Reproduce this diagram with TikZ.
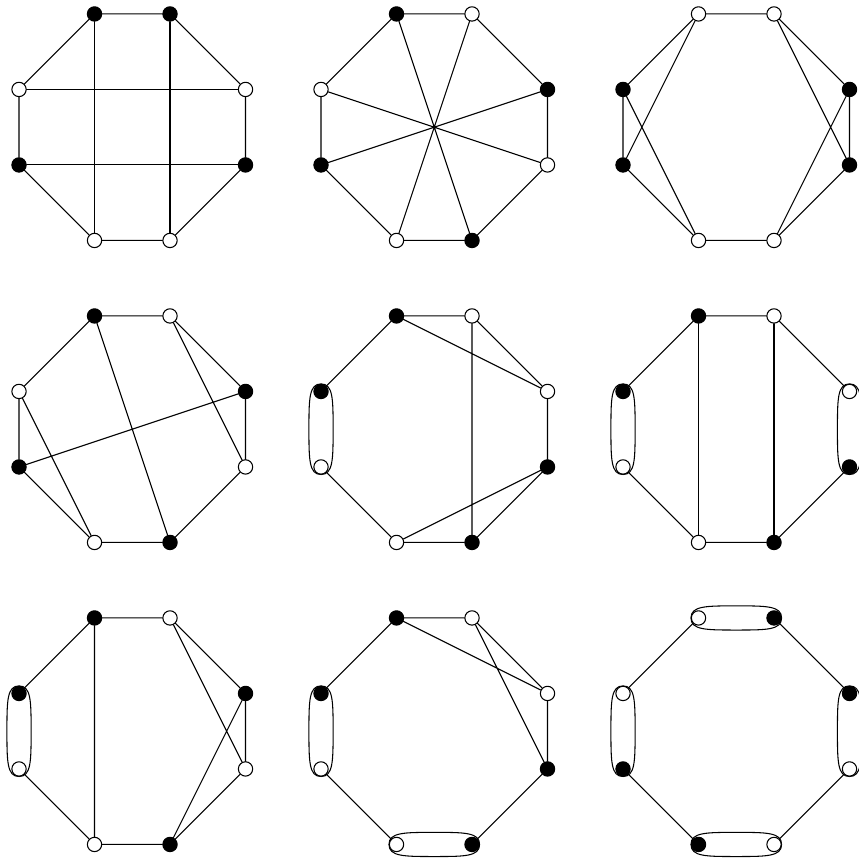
\documentclass[tikz,border=0pt]{standalone}
\tikzset{
	vloop/.pic={
		\draw (0,0.6) .. controls (0.16,0.6) and (0.16,0.4) .. (0.16,0)
			.. controls (0.16,-0.4) and (0.16,-0.6) .. (0,-0.6)
			.. controls (-0.16,-0.6) and (-0.16,-0.4) .. (-0.16,0)
			.. controls (-0.16,0.4) and (-0.16,0.6) .. (0,0.6) -- cycle;
	}
}
\begin{document}
\begin{tikzpicture}[line join=round, line cap=round,
	bv/.style={circle, draw, fill=black, inner sep=0pt, minimum size=0.19cm},
	wv/.style={circle, draw, fill=white, inner sep=0pt, minimum size=0.19cm}]
	\useasboundingbox (-0.252,-8.206) rectangle (11.113,3.185);
	\begin{scope}[shift={(0,0)}]
		\foreach \n/\x/\y/\s in {a/1/3/bv,b/2/3/bv,c/3/2/wv,d/3/1/bv,e/2/0/wv,f/1/0/wv,g/0/1/bv,h/0/2/wv}
			\node[\s] (\n1) at (\x,\y) {};
		\draw (a1)--(b1)--(c1)--(d1)--(e1)--(f1)--(g1)--(h1)--(a1);
		\draw (h1)--(c1) (g1)--(d1) (a1)--(f1) (b1)--(e1);
	\end{scope}
	\begin{scope}[shift={(4,0)}]
		\foreach \n/\x/\y/\s in {a/1/3/bv,b/2/3/wv,c/3/2/bv,d/3/1/wv,e/2/0/bv,f/1/0/wv,g/0/1/bv,h/0/2/wv}
			\node[\s] (\n2) at (\x,\y) {};
		\draw (a2)--(b2)--(c2)--(d2)--(e2)--(f2)--(g2)--(h2)--(a2);
		\draw (a2)--(e2) (b2)--(f2) (c2)--(g2) (d2)--(h2);
	\end{scope}
	\begin{scope}[shift={(8,0)}]
		\foreach \n/\x/\y/\s in {a/1/3/wv,b/2/3/wv,c/3/2/bv,d/3/1/bv,e/2/0/wv,f/1/0/wv,g/0/1/bv,h/0/2/bv}
			\node[\s] (\n3) at (\x,\y) {};
		\draw (a3)--(b3)--(c3)--(d3)--(e3)--(f3)--(g3)--(h3)--(a3);
		\draw (a3)--(g3) (h3)--(f3) (b3)--(d3) (c3)--(e3);
	\end{scope}
	\begin{scope}[shift={(0,-4)}]
		\foreach \n/\x/\y/\s in {a/1/3/bv,b/2/3/wv,c/3/2/bv,d/3/1/wv,e/2/0/bv,f/1/0/wv,g/0/1/bv,h/0/2/wv}
			\node[\s] (\n4) at (\x,\y) {};
		\draw (a4)--(b4)--(c4)--(d4)--(e4)--(f4)--(g4)--(h4)--(a4);
		\draw (a4)--(e4) (b4)--(d4) (g4)--(c4) (h4)--(f4);
	\end{scope}
	\begin{scope}[shift={(4,-4)}]
		\pic at (0,1.5) {vloop};
		\foreach \n/\x/\y/\s in {a/1/3/bv,b/2/3/wv,c/3/2/wv,d/3/1/bv,e/2/0/bv,f/1/0/wv,g/0/1/wv,h/0/2/bv}
			\node[\s] (\n5) at (\x,\y) {};
		\draw (h5)--(a5)--(b5)--(c5)--(d5)--(e5)--(f5)--(g5);
		\draw (a5)--(c5) (b5)--(e5) (f5)--(d5);
	\end{scope}
	\begin{scope}[shift={(8,-4)}]
		\pic at (0,1.5) {vloop};
		\pic at (3,1.5) {vloop};
		\foreach \n/\x/\y/\s in {a/1/3/bv,b/2/3/wv,c/3/2/wv,d/3/1/bv,e/2/0/bv,f/1/0/wv,g/0/1/wv,h/0/2/bv}
			\node[\s] (\n6) at (\x,\y) {};
		\draw (h6)--(a6)--(b6)--(c6) (d6)--(e6)--(f6)--(g6);
		\draw (a6)--(f6) (b6)--(e6);
	\end{scope}
	\begin{scope}[shift={(0,-8)}]
		\pic at (0,1.5) {vloop};
		\foreach \n/\x/\y/\s in {a/1/3/bv,b/2/3/wv,c/3/2/bv,d/3/1/wv,e/2/0/bv,f/1/0/wv,g/0/1/wv,h/0/2/bv}
			\node[\s] (\n7) at (\x,\y) {};
		\draw (h7)--(a7)--(b7)--(c7)--(d7)--(e7)--(f7)--(g7);
		\draw (a7)--(f7) (b7)--(d7) (c7)--(e7);
	\end{scope}
	\begin{scope}[shift={(4,-8)}]
		\pic at (0,1.5) {vloop};
		\pic[rotate=90] at (1.5,0) {vloop};
		\foreach \n/\x/\y/\s in {a/1/3/bv,b/2/3/wv,c/3/2/wv,d/3/1/bv,e/2/0/bv,f/1/0/wv,g/0/1/wv,h/0/2/bv}
			\node[\s] (\n8) at (\x,\y) {};
		\draw (h8)--(a8)--(b8)--(c8)--(d8)--(e8) (f8)--(g8);
		\draw (a8)--(c8) (b8)--(d8);
	\end{scope}
	\begin{scope}[shift={(8,-8)}]
		\pic[rotate=90] at (1.5,3) {vloop};
		\pic at (3,1.5) {vloop};
		\pic[rotate=90] at (1.5,0) {vloop};
		\pic at (0,1.5) {vloop};
		\foreach \n/\x/\y/\s in {a/1/3/wv,b/2/3/bv,c/3/2/bv,d/3/1/wv,e/2/0/wv,f/1/0/bv,g/0/1/bv,h/0/2/wv}
			\node[\s] (\n9) at (\x,\y) {};
		\draw (b9)--(c9) (d9)--(e9) (f9)--(g9) (h9)--(a9);
	\end{scope}
\end{tikzpicture}
\end{document}
